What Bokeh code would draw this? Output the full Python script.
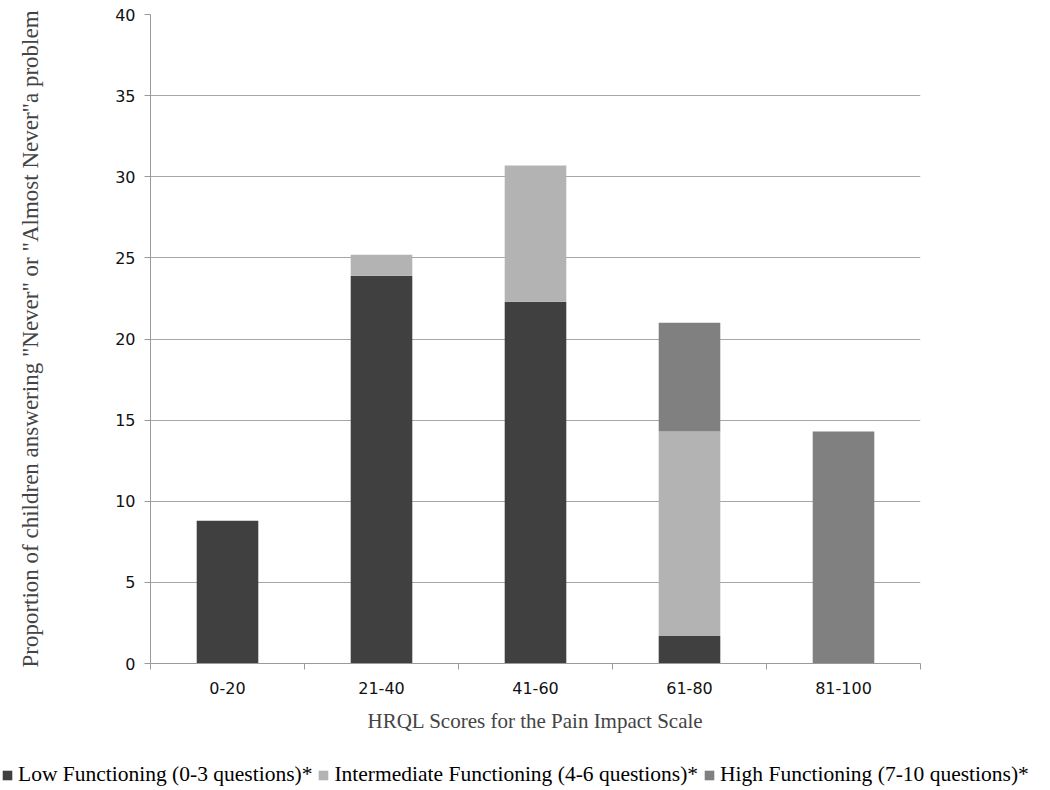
from bokeh.plotting import figure
from bokeh.models import FixedTicker, Legend, LegendItem, Range1d
from bokeh.embed import file_html
from bokeh.resources import INLINE

categories = ["0-20", "21-40", "41-60", "61-80", "81-100"]
low = [8.8, 23.9, 22.3, 1.7, 0.0]
intermediate = [0.0, 1.3, 8.4, 12.6, 0.0]
high = [0.0, 0.0, 0.0, 6.7, 14.3]
series_names = ["Low Functioning (0-3 questions)*",
                "Intermediate Functioning (4-6 questions)*",
                "High Functioning (7-10 questions)*"]
colors = ["#404040", "#b3b3b3", "#808080"]
y_ticks = [0, 5, 10, 15, 20, 25, 30, 35, 40]

xpos = [i + 0.5 for i in range(len(categories))]
data = dict(x=xpos, low=low, intermediate=intermediate, high=high)
stack = ["low", "intermediate", "high"]

p = figure(width=1050, height=745, output_backend="svg", toolbar_location=None,
           x_range=Range1d(0, len(categories)), y_range=Range1d(0, 40),
           min_border_left=150, min_border_right=130, min_border_top=14,
           min_border_bottom=82)
p.outline_line_color = None

renderers = p.vbar_stack(stack, x="x", width=0.4,
                         color=colors, line_color=None, source=data)

# axes
p.xaxis.ticker = FixedTicker(ticks=xpos, minor_ticks=list(range(len(categories) + 1)))
p.xaxis.major_label_overrides = {x: c for x, c in zip(xpos, categories)}
p.xaxis.major_tick_line_color = None
p.xaxis.minor_tick_out = 6
p.xaxis.minor_tick_in = 0
p.xaxis.minor_tick_line_color = "#9a9a9a"
p.xaxis.axis_line_color = "#9a9a9a"
p.xaxis.major_label_text_font = "DejaVu Sans"
p.xaxis.major_label_text_font_size = "16px"
p.xaxis.major_label_text_color = "#111111"
p.xaxis.major_label_standoff = 12
p.xaxis.axis_label = "HRQL Scores for the Pain Impact Scale"
p.xaxis.axis_label_text_font = "Liberation Serif"
p.xaxis.axis_label_text_font_style = "normal"
p.xaxis.axis_label_text_font_size = "21px"
p.xaxis.axis_label_standoff = 12

p.yaxis.ticker = FixedTicker(ticks=y_ticks)
p.yaxis.minor_tick_line_color = None
p.yaxis.major_tick_out = 6
p.yaxis.major_tick_in = 0
p.yaxis.major_tick_line_color = "#9a9a9a"
p.yaxis.axis_line_color = "#9a9a9a"
p.yaxis.major_label_text_font = "DejaVu Sans"
p.yaxis.major_label_text_font_size = "16px"
p.yaxis.major_label_text_color = "#111111"
p.yaxis.major_label_standoff = 9
p.yaxis.axis_label = 'Proportion of children answering "Never" or "Almost Never"a problem'
p.yaxis.axis_label_text_font = "Liberation Serif"
p.yaxis.axis_label_text_font_style = "normal"
p.yaxis.axis_label_text_font_size = "23px"
p.yaxis.axis_label_standoff = 69

p.xgrid.grid_line_color = None
p.ygrid.grid_line_color = "#a6a6a6"
p.ygrid.grid_line_width = 1

# legend strip below the chart (own canvas so it may span the full width)
pl = figure(width=1050, height=45, output_backend="svg", toolbar_location=None,
            x_range=Range1d(0, len(categories)), y_range=Range1d(0, 40),
            x_axis_location=None, y_axis_location=None,
            min_border_left=0, min_border_right=0, min_border_top=0, min_border_bottom=0)
pl.grid.grid_line_color = None
pl.outline_line_color = None
swatches = pl.vbar_stack(stack, x="x", width=0.4, color=colors, line_color=None,
                         source=data, visible=False)

legend = Legend(items=[LegendItem(label=n, renderers=[r]) for n, r in zip(series_names, swatches)],
                orientation="horizontal", location=(1, 3),
                glyph_width=12, glyph_height=12, label_standoff=5, spacing=5,
                padding=0, margin=0, border_line_color=None, background_fill_alpha=0,
                inactive_fill_alpha=0,
                label_text_font="Liberation Serif", label_text_font_size="21.5px",
                label_text_color="#000000")
pl.add_layout(legend, "center")

open("out.html", "w").write(file_html([p, pl], INLINE))
